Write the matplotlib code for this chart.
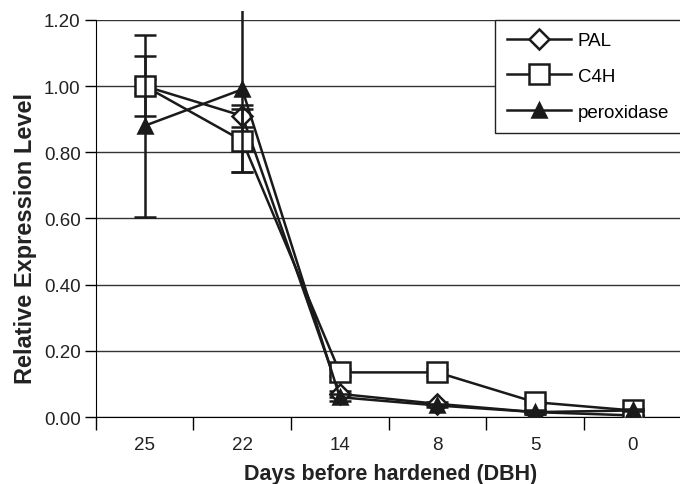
import matplotlib
matplotlib.use("Agg")
import matplotlib.pyplot as plt
from matplotlib.lines import Line2D
from matplotlib.transforms import Bbox, TransformedBbox
import numpy as np

# data
days = ["25", "22", "14", "8", "5", "0"]
pal = [1.00, 0.91, 0.07, 0.04, 0.015, 0.005]
pal_err = [0.02, 0.033, 0.01, 0.005, 0.005, 0.002]
c4h = [1.00, 0.835, 0.135, 0.135, 0.045, 0.02]
c4h_err = [0.09, 0.095, 0.01, 0.01, 0.005, 0.003]
perox = [0.88, 0.99, 0.06, 0.035, 0.015, 0.02]
perox_err = [0.275, 0.25, 0.01, 0.005, 0.005, 0.003]

plt.rcParams['font.family'] = ['Liberation Sans', 'DejaVu Sans']

fig = plt.figure(figsize=(6.8, 4.85), dpi=100)
ax = fig.add_axes([0.141, 0.138, 0.861, 0.819])

x = np.arange(len(days))
ink = "#1a1a1a"

series = [
    ("PAL", pal, pal_err, dict(marker="D", markersize=10, markerfacecolor="white")),
    ("C4H", c4h, c4h_err, dict(marker="s", markersize=14, markerfacecolor="white")),
    ("peroxidase", perox, perox_err, dict(marker="^", markersize=10, markerfacecolor=ink)),
]

# error bars may run a little above the top of the plot area
clip = TransformedBbox(Bbox([[-0.5, -0.05], [len(days) - 0.5, 1.228]]), ax.transData)

handles = []
for i, (name, vals, err, style) in enumerate(series):
    eb = ax.errorbar(x, vals, yerr=err, color=ink, lw=1.8, capsize=8, capthick=1.8,
                     elinewidth=1.8, markeredgecolor=ink, markeredgewidth=1.8,
                     zorder=3 + i, **style)
    for art in list(eb.lines[1]) + list(eb.lines[2]):
        art.set_clip_box(clip)
    handles.append(Line2D([], [], color=ink, lw=1.8, markeredgecolor=ink,
                          markeredgewidth=1.8, label=name, **style))

ax.set_xlim(-0.5, len(days) - 0.5)
ax.set_ylim(0, 1.2)
yt = np.arange(0, 1.21, 0.2)
ax.set_yticks(yt)
ax.set_yticklabels([f"{v:.2f}" for v in yt])
ax.set_xticks(x)
ax.set_xticklabels(days)
ax.set_xticks(np.arange(-0.5, len(days), 1.0), minor=True)
ax.tick_params(axis="x", which="major", length=0, pad=13.5, labelsize=13.5, labelcolor="#222222")
ax.tick_params(axis="x", which="minor", length=9, width=1, direction="out")
ax.tick_params(axis="y", length=8, width=1, direction="out", labelsize=13.5, pad=3,
               labelcolor="#222222")

ax.yaxis.grid(True, color="#333333", lw=1)
ax.set_axisbelow(True)
for s in ["top", "right"]:
    ax.spines[s].set_visible(False)

ax.set_xlabel("Days before hardened (DBH)", fontsize=15.5, fontweight="bold", color="#222222")
ax.set_ylabel("Relative Expression Level", fontsize=17, fontweight="bold", color="#222222")
ax.xaxis.set_label_coords(0.503, -0.115)
ax.yaxis.set_label_coords(-0.1, 0.453)

leg = ax.legend(handles=handles, loc="upper left", bbox_to_anchor=(0.682, 1.0), borderaxespad=0,
                fontsize=13.5, handlelength=3.4, labelspacing=1.0, fancybox=False, framealpha=1,
                edgecolor="#222222", borderpad=0.65, handletextpad=0.35)
leg.get_frame().set_linewidth(1)

fig.savefig("out.png", dpi=100)
